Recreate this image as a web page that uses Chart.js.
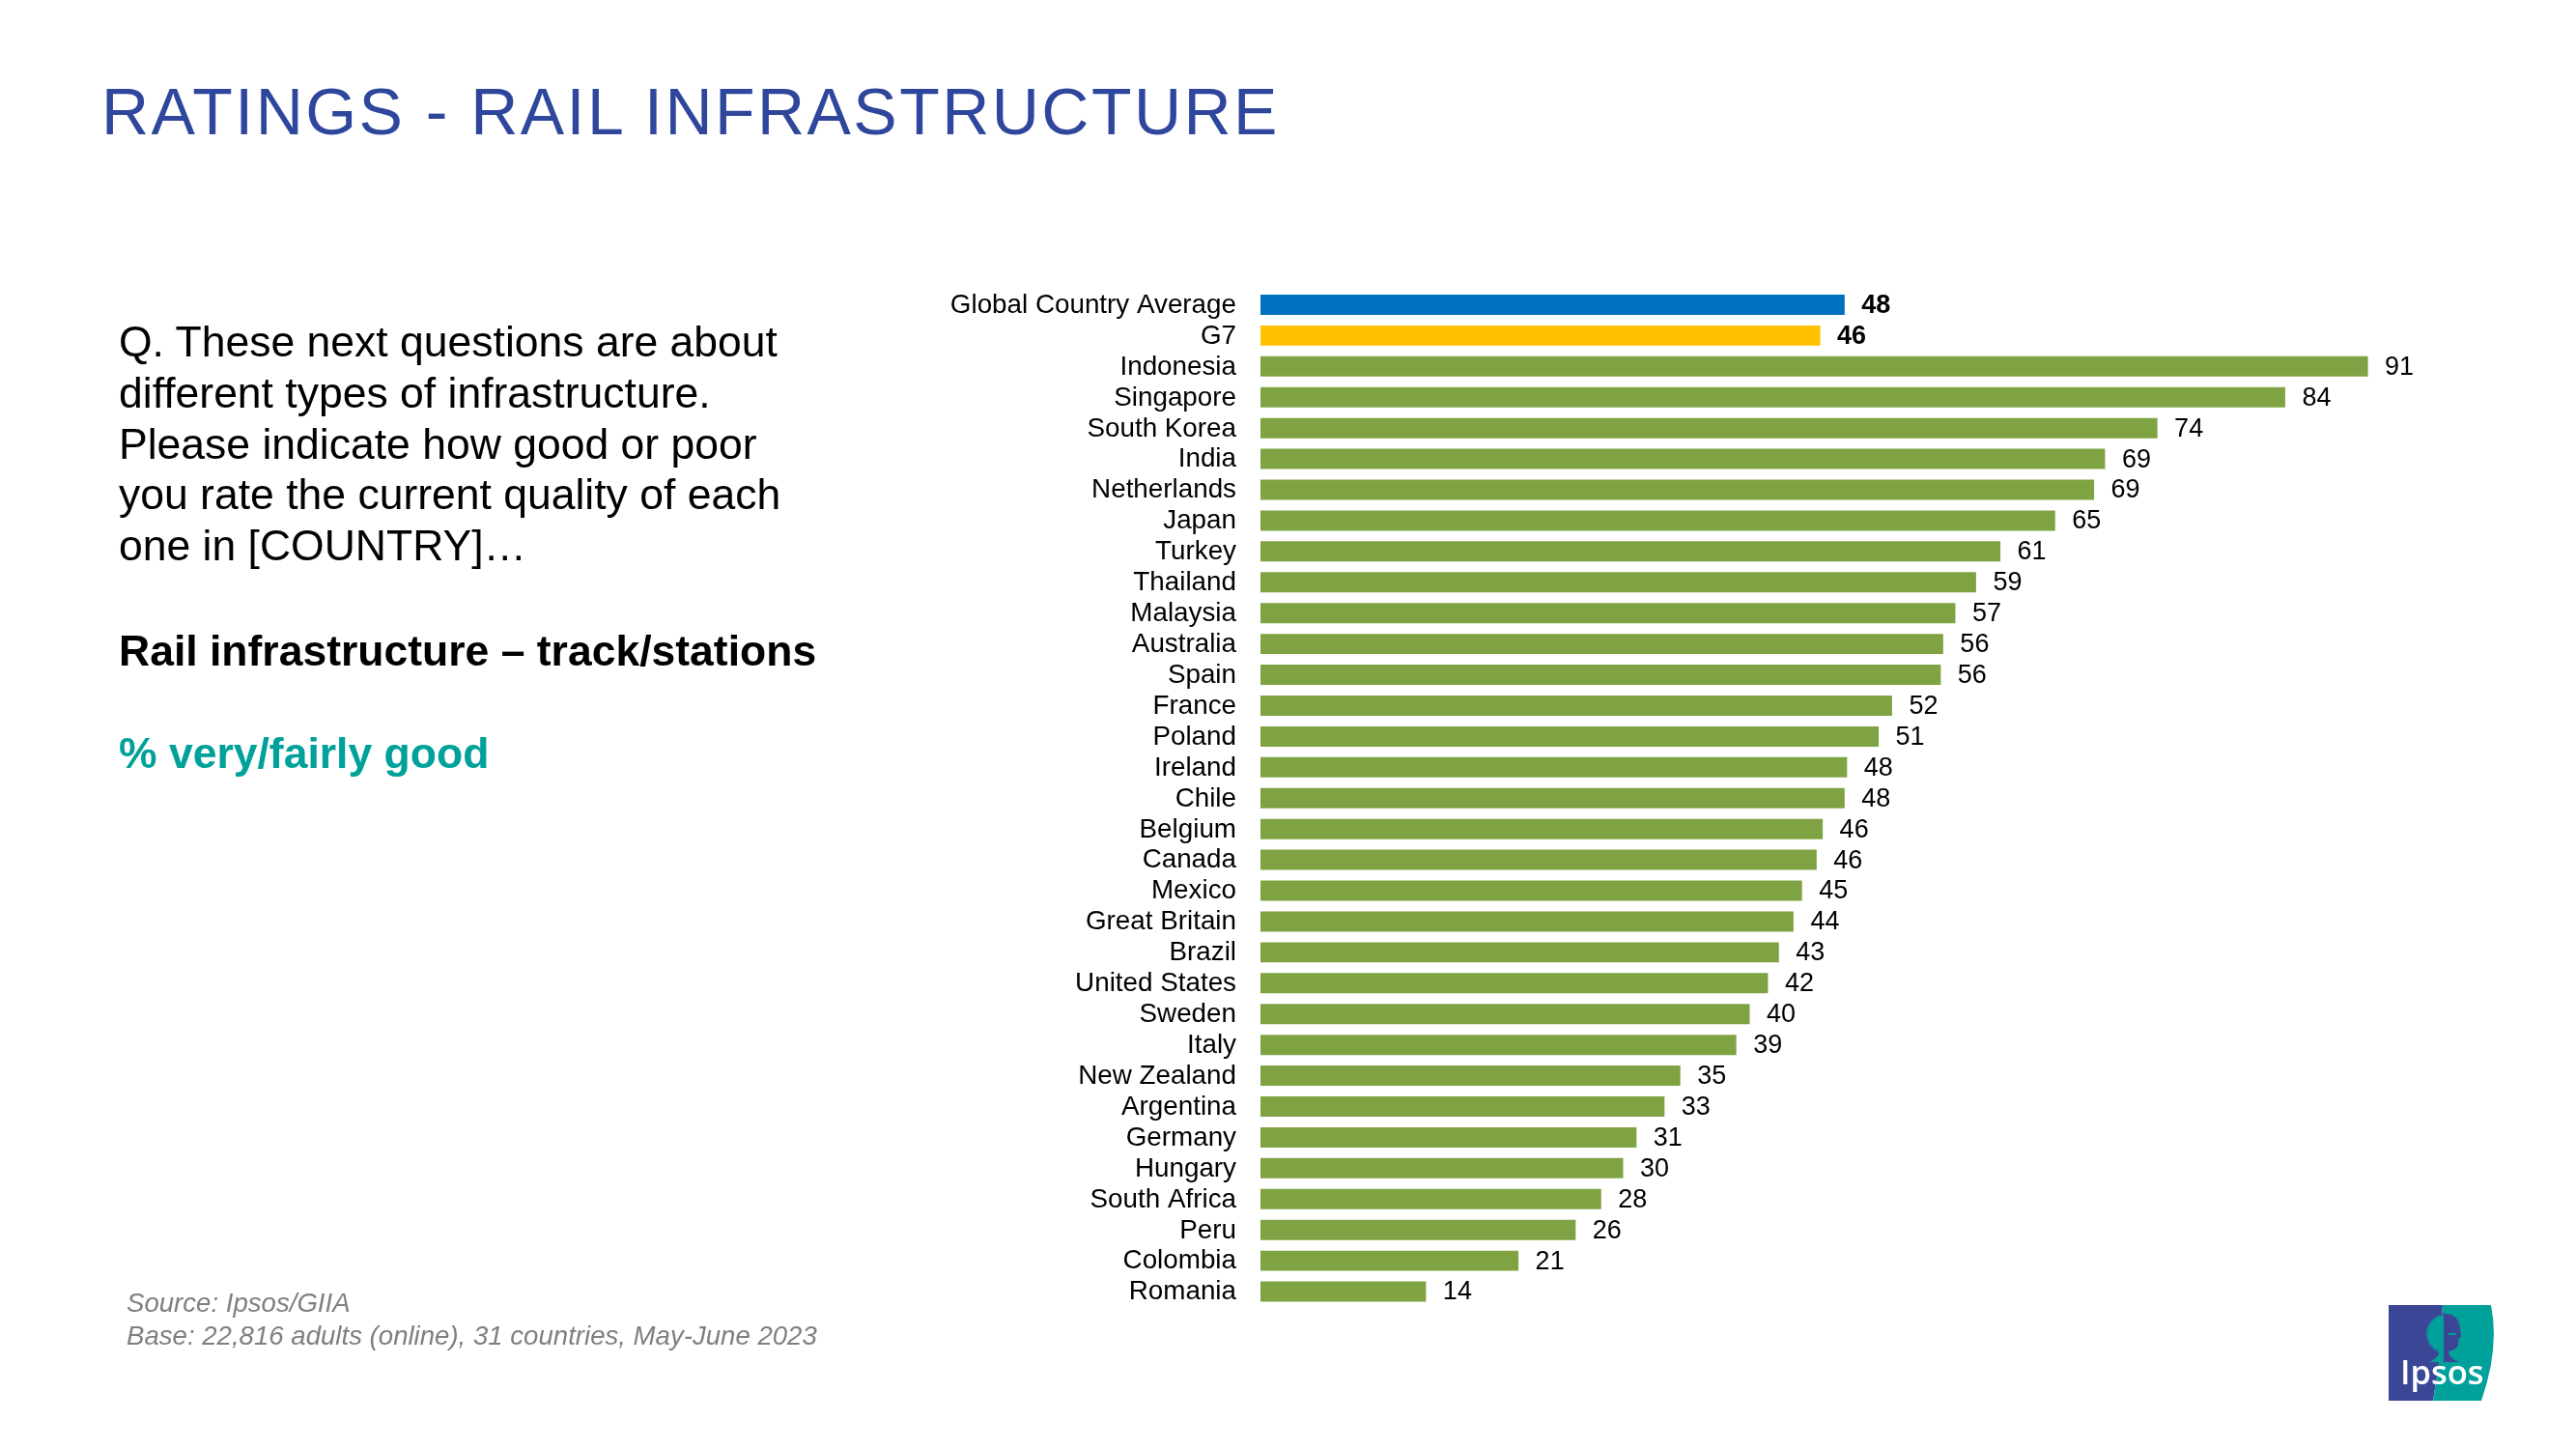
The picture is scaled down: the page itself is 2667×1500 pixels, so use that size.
<!DOCTYPE html>
<html>
<head>
<meta charset="utf-8">
<title>Ratings - Rail infrastructure</title>
<script src="https://cdn.jsdelivr.net/npm/chart.js@4"></script>
<style>
  html, body { margin: 0; padding: 0; background: #fff; }
  body { width: 2667px; height: 1500px; position: relative; overflow: hidden; font-family: "Liberation Sans", Arial, sans-serif; }
  #ratingsChart { position: absolute; left: 0; top: 0; }
  .txt { position: absolute; white-space: nowrap; }
  #slideTitle { left: 105px; top: 75px; font-size: 68px; line-height: 80px; color: #2E479C; letter-spacing: 2.46px; }
  #question { left: 123px; top: 328px; font-size: 44.5px; line-height: 52.8px; color: #000; }
  #subject { left: 123px; top: 647px; font-size: 44.5px; line-height: 53px; font-weight: bold; color: #000; }
  #measure { left: 123px; top: 753px; font-size: 44.5px; line-height: 53px; font-weight: bold; color: #00A19A; }
  #source { left: 131px; top: 1332px; font-size: 27.6px; line-height: 34px; font-style: italic; color: #7F7F7F; }
  #logo { position: absolute; left: 2473px; top: 1351px; }
</style>
</head>
<body>
<canvas id="ratingsChart" width="2667" height="1500"></canvas>
<div class="txt" id="slideTitle">RATINGS - RAIL INFRASTRUCTURE</div>
<div class="txt" id="question">Q. These next questions are about<br>different types of infrastructure.<br>Please indicate how good or poor<br>you rate the current quality of each<br>one in [COUNTRY]…</div>
<div class="txt" id="subject">Rail infrastructure – track/stations</div>
<div class="txt" id="measure">% very/fairly good</div>
<div class="txt" id="source">Source: Ipsos/GIIA<br>Base: 22,816 adults (online), 31 countries, May-June 2023</div>
<svg id="logo" width="110" height="99" viewBox="0 0 110 99">
  <path d="M0 0H56L52 62L46 99H0Z" fill="#3C4696"/>
  <path d="M56 0H106Q115 45 96 99H46L52 62Z" fill="#00A19A"/>
  <path d="M57 9A22 21 0 0 0 52 49Q52 54 42 59H57Z" fill="#00A19A"/>
  <path d="M57 9A22 21 0 0 0 52 49" fill="none" stroke="#3C4696" stroke-width="3" stroke-dasharray="1.6 1.6"/>
  <path d="M57 9Q72 8 74 24L75 33L72 35Q74 46 62 48Q62 55 73 59H57Z" fill="#3C4696"/>
  <path d="M62 29H70V31H62Z" fill="#00A19A"/>
  <text x="12" y="82" font-family="'Open Sans', sans-serif" font-size="34.5" font-weight="600" fill="#fff">Ipsos</text>
</svg>
<script>
const categories = ['Global Country Average', 'G7', 'Indonesia', 'Singapore', 'South Korea', 'India', 'Netherlands', 'Japan', 'Turkey', 'Thailand', 'Malaysia', 'Australia', 'Spain', 'France', 'Poland', 'Ireland', 'Chile', 'Belgium', 'Canada', 'Mexico', 'Great Britain', 'Brazil', 'United States', 'Sweden', 'Italy', 'New Zealand', 'Argentina', 'Germany', 'Hungary', 'South Africa', 'Peru', 'Colombia', 'Romania'];
const goodShare = [48.0, 46.0, 91.0, 84.2, 73.7, 69.4, 68.5, 65.3, 60.8, 58.8, 57.1, 56.1, 55.9, 51.9, 50.8, 48.2, 48.0, 46.2, 45.7, 44.5, 43.8, 42.6, 41.7, 40.2, 39.1, 34.5, 33.2, 30.9, 29.8, 28.0, 25.9, 21.2, 13.6];

const BLUE = '#0070C0';
const YELLOW = '#FFC000';
const GREEN = '#7FA343';
const FONT = '"Liberation Sans", Arial, sans-serif';

const barColor = (i) => i === 0 ? BLUE : i === 1 ? YELLOW : GREEN;

// no datalabels plugin here, so the numbers go in by hand after the bars
const valueLabels = {
    id: 'valueLabels',
    afterDatasetsDraw(chart) {
        const ctx = chart.ctx;
        const bars = chart.getDatasetMeta(0).data;
        ctx.save();
        ctx.textAlign = 'left';
        ctx.textBaseline = 'middle';
        ctx.fillStyle = '#000';
        bars.forEach((bar, i) => {
            ctx.font = (i < 2 ? 'bold ' : '') + '27px ' + FONT;
            ctx.fillText(goodShare[i].toFixed(0), bar.x + 17.5, bar.y + 1);
        });
        ctx.restore();
    }
};

new Chart(document.getElementById('ratingsChart').getContext('2d'), {
    type: 'bar',
    data: {
        labels: categories,
        datasets: [{
            data: goodShare,
            backgroundColor: categories.map((c, i) => barColor(i)),
            barPercentage: 0.657,
            categoryPercentage: 1
        }]
    },
    options: {
        indexAxis: 'y',
        responsive: false,
        animation: false,
        devicePixelRatio: 1,
        layout: { padding: { top: 299.5, bottom: 147, left: 0, right: 102 } },
        plugins: { legend: { display: false }, tooltip: { enabled: false } },
        scales: {
            x: { display: false, min: 0, max: 100 },
            y: {
                afterFit(scale) { scale.width = 1305; },
                grid: { display: false, drawTicks: false },
                border: { display: false },
                ticks: { autoSkip: false, padding: 25, labelOffset: 0.7, color: '#000', font: { size: 27.8, family: FONT } }
            }
        }
    },
    plugins: [valueLabels]
});
</script>
</body>
</html>
